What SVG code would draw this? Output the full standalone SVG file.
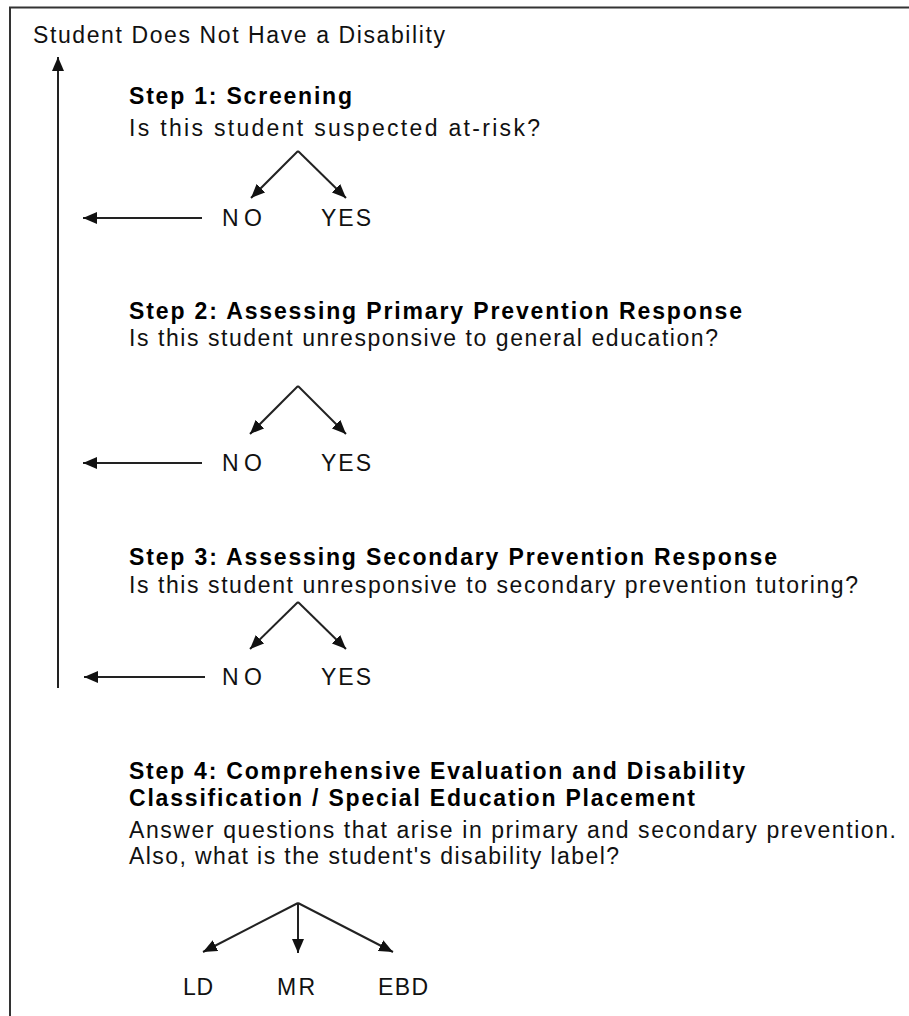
<svg xmlns="http://www.w3.org/2000/svg" width="909" height="1016" viewBox="0 0 909 1016">
<style>
text{font-family:"Liberation Sans",Arial,sans-serif;font-size:23px;fill:#111}
.b{font-weight:bold;fill:#000}
.ln{stroke:#222;stroke-width:2;fill:none}
</style>
<defs>
<marker id="ah" viewBox="0 0 14 12" refX="14" refY="6" markerWidth="14" markerHeight="12" markerUnits="userSpaceOnUse" orient="auto">
<path d="M0,0 L14,6 L0,12 Z" fill="#111"/>
</marker>
</defs>
<rect width="909" height="1016" fill="#fff"/>
<path d="M10,1016 V7.5 H909" stroke="#333" stroke-width="2" fill="none"/>

<g id="outcome-none">
<text x="33" y="43" textLength="412" lengthAdjust="spacing">Student Does Not Have a Disability</text>
</g>

<g id="step1">
<text class="b" x="129" y="104" textLength="223" lengthAdjust="spacing">Step 1: Screening</text>
<text x="129" y="136" textLength="411" lengthAdjust="spacing">Is this student suspected at-risk?</text>
<text x="222" y="226" textLength="40" lengthAdjust="spacing">NO</text>
<text x="321" y="226" textLength="50" lengthAdjust="spacing">YES</text>
</g>

<g id="step2">
<text class="b" x="129" y="319" textLength="613" lengthAdjust="spacing">Step 2: Assessing Primary Prevention Response</text>
<text x="129" y="346" textLength="589" lengthAdjust="spacing">Is this student unresponsive to general education?</text>
<text x="222" y="471" textLength="40" lengthAdjust="spacing">NO</text>
<text x="321" y="471" textLength="50" lengthAdjust="spacing">YES</text>
</g>

<g id="step3">
<text class="b" x="129" y="565" textLength="648" lengthAdjust="spacing">Step 3: Assessing Secondary Prevention Response</text>
<text x="129" y="593" textLength="729" lengthAdjust="spacing">Is this student unresponsive to secondary prevention tutoring?</text>
<text x="222" y="685" textLength="40" lengthAdjust="spacing">NO</text>
<text x="321" y="685" textLength="50" lengthAdjust="spacing">YES</text>
</g>

<g id="step4">
<text class="b" x="129" y="779" textLength="616" lengthAdjust="spacing">Step 4: Comprehensive Evaluation and Disability</text>
<text class="b" x="129" y="806" textLength="566" lengthAdjust="spacing">Classification / Special Education Placement</text>
<text x="129" y="838" textLength="767" lengthAdjust="spacing">Answer questions that arise in primary and secondary prevention.</text>
<text x="129" y="864" textLength="490" lengthAdjust="spacing">Also, what is the student's disability label?</text>
</g>

<g id="ld"><text x="183" y="995" textLength="30" lengthAdjust="spacing">LD</text></g>
<g id="mr"><text x="277" y="995" textLength="38" lengthAdjust="spacing">MR</text></g>
<g id="ebd"><text x="378" y="995" textLength="50" lengthAdjust="spacing">EBD</text></g>

<g id="connectors" class="ln">
<path class="ln" d="M58,688 V57" marker-end="url(#ah)"/>
<path class="ln" d="M298,151 L251,198" marker-end="url(#ah)"/>
<path class="ln" d="M298,151 L346,198" marker-end="url(#ah)"/>
<path class="ln" d="M202,218 H83" marker-end="url(#ah)"/>
<path class="ln" d="M298,386 L250,434" marker-end="url(#ah)"/>
<path class="ln" d="M298,386 L346,434" marker-end="url(#ah)"/>
<path class="ln" d="M202,463 H83" marker-end="url(#ah)"/>
<path class="ln" d="M298,602 L250,649" marker-end="url(#ah)"/>
<path class="ln" d="M298,602 L346,649" marker-end="url(#ah)"/>
<path class="ln" d="M205,677 H84" marker-end="url(#ah)"/>
<path class="ln" d="M298,903 L203,952" marker-end="url(#ah)"/>
<path class="ln" d="M298,903 V953" marker-end="url(#ah)"/>
<path class="ln" d="M298,903 L393,952" marker-end="url(#ah)"/>
</g>
</svg>
